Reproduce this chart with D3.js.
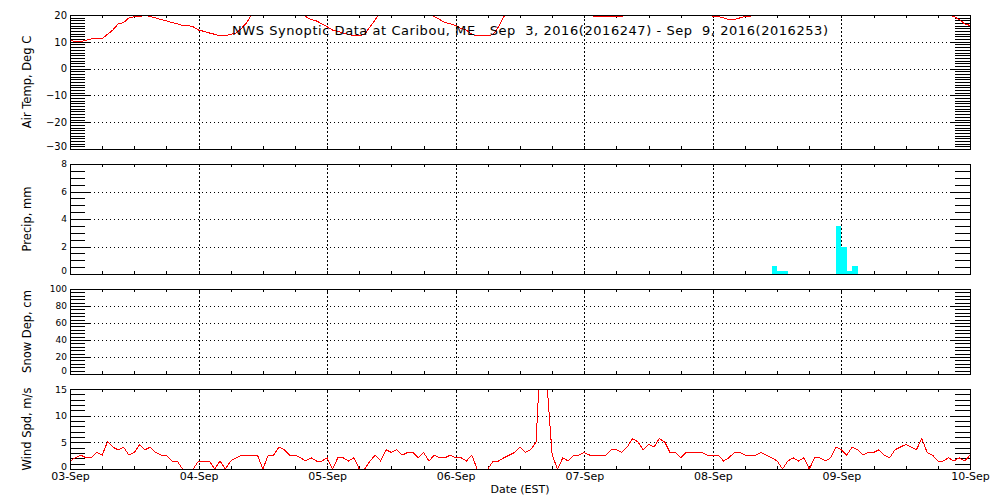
<!DOCTYPE html>
<html><head><meta charset="utf-8">
<script src="https://cdn.jsdelivr.net/npm/d3@7"></script>
<style>
html,body{margin:0;padding:0;background:#fff;}
svg{display:block;}
text{font-family:"DejaVu Sans",sans-serif;fill:#000;}
</style></head><body>
<svg id="c" width="1000" height="500"></svg>
<script>
// ---------------- data ----------------
const startDate = "2016-09-03T00:00:00Z";
const endDate = "2016-09-10T00:00:00Z";
const dayLabels = ["03-Sep","04-Sep","05-Sep","06-Sep","07-Sep","08-Sep","09-Sep","10-Sep"];
const titleText = "NWS Synoptic Data at Caribou, ME   Sep  3, 2016(2016247) - Sep  9, 2016(2016253)";
const xTitle = "Date (EST)";

// hourly air temperature, deg C (values above 20 are off the top of the panel)
const airTemp = [
  10.6,10.0,10.0,10.6,11.1,11.1,11.1,12.8,14.4,16.7,17.2,18.9,19.4,19.4,20.0,19.4,18.9,18.3,17.8,17.2,16.7,16.1,16.1,15.6,
  14.4,13.9,13.3,12.8,12.2,12.2,12.8,13.3,15.0,17.2,20.6,22.2,23.3,24.4,25.0,25.0,24.4,23.3,22.2,20.6,19.4,18.3,17.8,16.7,
  15.6,14.4,13.9,13.3,12.8,12.2,12.2,12.8,15.6,18.3,21.1,23.3,25.0,26.1,26.7,27.2,26.7,25.6,23.9,20.6,19.4,18.3,17.2,16.7,
  16.1,15.0,14.4,12.8,12.2,12.2,12.2,12.8,15.6,19.4,22.2,23.3,25.0,26.1,27.2,27.8,28.3,28.3,27.8,26.7,25.6,24.4,23.3,22.2,
  22.0,20.0,19.4,19.4,19.4,19.4,19.4,19.4,20.6,22.2,23.3,24.4,25.0,25.6,25.6,25.0,24.4,23.3,22.8,22.2,21.7,21.1,20.6,20.6,
  19.4,19.4,18.9,18.3,18.3,18.9,19.4,19.4,21.1,22.8,24.4,25.6,26.1,25.0,24.4,23.9,23.3,22.8,22.2,21.7,21.7,21.1,21.1,21.1,
  21.1,21.1,21.7,22.2,23.3,24.4,25.6,26.7,27.8,28.3,28.9,28.9,28.3,27.8,26.7,25.6,24.4,23.3,22.2,21.1,20.0,19.4,18.3,16.7,
  16.1
];

// hourly wind speed, m/s
const windSpd = [
  1.5,2.1,2.6,2.1,2.1,3.1,2.6,5.1,4.1,3.6,4.1,2.6,3.1,4.6,3.6,4.1,3.1,2.6,2.6,1.5,1.5,0,0,0,
  1.5,1.5,1.5,0,1.5,0,1.5,2.1,2.6,2.6,2.6,2.6,0,2.6,2.6,4.1,3.6,2.6,2.6,2.1,1.5,2.1,1.5,1.5,
  2.1,0,2.1,2.1,1.5,2.1,0,0,1.5,2.6,1.5,3.6,3.1,3.6,2.6,3.1,3.1,2.1,3.1,1.5,2.6,2.1,2.1,2.6,
  2.1,2.1,1.5,2.6,0,0,0,1.5,1.5,2.1,2.6,3.1,4.1,3.1,3.6,5.1,25.0,16.5,2.6,0,2.1,1.5,2.6,2.6,
  3.1,2.6,2.6,2.6,2.6,3.6,3.6,3.1,4.1,5.7,5.1,3.6,4.6,4.1,5.7,5.1,3.1,3.1,2.1,3.1,3.1,3.1,3.1,2.6,
  2.6,2.6,1.5,2.1,3.1,3.1,2.6,2.6,2.6,3.1,2.6,2.1,1.5,0,1.5,2.1,1.5,2.1,0,2.1,2.1,1.5,2.1,4.1,
  3.6,2.6,4.1,3.6,2.6,3.1,3.1,3.6,2.6,2.1,3.6,4.1,4.6,4.1,3.6,5.7,3.1,2.6,1.5,1.5,2.1,1.5,2.1,1.5,
  2.6
];

// hourly precipitation (hour index from start, mm)
const precipHours = [131,132,133,143,144,145,146];
const precipMm    = [0.6,0.2,0.2,3.5,2.0,0.2,0.6];

// snow depth, cm (no reports)
const snowDepth = [];

const tempTicks   = [-30,-20,-10,0,10,20];
const precipTicks = [0,2,4,6,8];
const snowTicks   = [0,20,40,60,80,100];
const windTicks   = [0,5,10,15];

// ---------------- chart ----------------
const svg = d3.select("#c");
const L = 70, R = 970;
const t0 = new Date(startDate), t1 = new Date(endDate);
const hourAt = i => new Date(t0.getTime() + i * 3600e3);
const x = d3.scaleUtc().domain([t0, t1]).range([L, R]);
const dayTimes = dayLabels.map((d, i) => new Date(t0.getTime() + i * 86400e3));
const sixHour = d3.range(0, 7 * 24 + 1, 6).map(hourAt);

const panels = [
  {id:"temp",   top:15,  bottom:149, domain:[-30,20], ticks:tempTicks,   minor:1,   label:"Air Temp, Deg C", fs:10},
  {id:"precip", top:164, bottom:274, domain:[0,8],    ticks:precipTicks, minor:0.5, label:"Precip, mm",      fs:9},
  {id:"snow",   top:289, bottom:374, domain:[0,100],  ticks:snowTicks,   minor:4,   label:"Snow Dep, cm",    fs:9},
  {id:"wind",   top:389, bottom:469, domain:[0,15],   ticks:windTicks,   minor:1,   label:"Wind Spd, m/s",   fs:9.5}
];

panels.forEach(p => {
  const y = d3.scaleLinear().domain(p.domain).range([p.bottom, p.top]);
  p.y = y;
  const g = svg.append("g");
  const inner = p.ticks.filter(v => v !== p.domain[0] && v !== p.domain[1]);
  const minorVals = d3.range(p.domain[0], p.domain[1] + 1e-9, p.minor).map(v => +v.toFixed(4));

  // horizontal dotted grid
  g.append("g").attr("transform", `translate(${L},0)`)
    .call(d3.axisLeft(y).tickValues(inner).tickSizeInner(-(R - L)).tickSizeOuter(0).tickFormat(""))
    .call(a => a.select(".domain").remove())
    .call(a => a.selectAll("line").attr("stroke", "#000").attr("stroke-dasharray", "1,3"));

  // vertical dotted day grid
  g.append("g").attr("transform", `translate(0,${p.bottom})`)
    .call(d3.axisBottom(x).tickValues(dayTimes.slice(1, -1)).tickSizeInner(-(p.bottom - p.top)).tickSizeOuter(0).tickFormat(""))
    .call(a => a.select(".domain").remove())
    .call(a => a.selectAll("line").attr("stroke", "#000").attr("stroke-dasharray", "2,2"));

  // minor y ticks, left and right
  g.append("g").attr("transform", `translate(${L},0)`)
    .call(d3.axisLeft(y).tickValues(minorVals).tickSizeInner(-15).tickSizeOuter(0).tickFormat(""))
    .call(a => a.select(".domain").remove());
  g.append("g").attr("transform", `translate(${R},0)`)
    .call(d3.axisRight(y).tickValues(minorVals).tickSizeInner(-15).tickSizeOuter(0).tickFormat(""))
    .call(a => a.select(".domain").remove());

  // major y ticks + labels (left), major ticks (right)
  g.append("g").attr("transform", `translate(${L},0)`)
    .call(d3.axisLeft(y).tickValues(p.ticks).tickSizeInner(-20).tickSizeOuter(0).tickPadding(3))
    .call(a => a.select(".domain").remove())
    .call(a => a.selectAll("text").attr("font-size", p.fs).attr("font-family", "DejaVu Sans")
      .attr("y", d => d === p.domain[0] ? -3 : 0));
  g.append("g").attr("transform", `translate(${R},0)`)
    .call(d3.axisRight(y).tickValues(p.ticks).tickSizeInner(-20).tickSizeOuter(0).tickFormat(""))
    .call(a => a.select(".domain").remove());

  // minor x ticks top/bottom
  g.append("g").attr("transform", `translate(0,${p.bottom})`)
    .call(d3.axisBottom(x).tickValues(sixHour).tickSizeInner(-3).tickSizeOuter(0).tickFormat(""))
    .call(a => a.select(".domain").remove());
  g.append("g").attr("transform", `translate(0,${p.top})`)
    .call(d3.axisTop(x).tickValues(sixHour).tickSizeInner(-3).tickSizeOuter(0).tickFormat(""))
    .call(a => a.select(".domain").remove());

  // clip
  svg.append("clipPath").attr("id", "clip-" + p.id)
    .append("rect").attr("x", L).attr("y", p.top + 0.5).attr("width", R - L + 1).attr("height", p.bottom - p.top);
  p.plot = svg.append("g").attr("clip-path", `url(#clip-${p.id})`);

  // y title
  svg.append("text")
    .attr("transform", `translate(27,${(p.top + p.bottom) / 2}) rotate(-90)`)
    .attr("text-anchor", "middle").attr("dominant-baseline", "central")
    .attr("font-size", 11.5).text(p.label);
});

svg.selectAll(".tick line").attr("shape-rendering", "crispEdges");

const [pT, pP, pS, pW] = panels;

// precipitation bars
pP.plot.selectAll("rect.bar").data(precipHours.map((h, i) => ({h, v: precipMm[i]})))
  .join("rect").attr("class", "bar")
  .attr("x", d => x(hourAt(d.h)))
  .attr("width", d => x(hourAt(d.h + 1)) - x(hourAt(d.h)))
  .attr("y", d => pP.y(d.v))
  .attr("height", d => pP.y(0) - pP.y(d.v))
  .attr("fill", "#00ffff").attr("shape-rendering", "crispEdges");

// snow line (no data)
pS.plot.append("path").datum(snowDepth)
  .attr("fill", "none").attr("stroke", "#ff0000")
  .attr("d", d3.line().x((d, i) => x(hourAt(i))).y(d => pS.y(d)));

// temperature line
pT.plot.append("path").datum(airTemp)
  .attr("fill", "none").attr("stroke", "#ff0000").attr("stroke-width", 1)
  .attr("shape-rendering", "crispEdges")
  .attr("d", d3.line().x((d, i) => x(hourAt(i))).y(d => pT.y(d)));

// wind line
pW.plot.append("path").datum(windSpd)
  .attr("fill", "none").attr("stroke", "#ff0000").attr("stroke-width", 1)
  .attr("shape-rendering", "crispEdges")
  .attr("d", d3.line().x((d, i) => x(hourAt(i))).y(d => pW.y(d)));

// frames
panels.forEach(p => {
  svg.append("rect").attr("x", L + 0.5).attr("y", p.top + 0.5)
    .attr("width", R - L).attr("height", p.bottom - p.top)
    .attr("fill", "none").attr("stroke", "#000").attr("shape-rendering", "crispEdges");
});

// bottom date labels
svg.append("g").attr("transform", `translate(0,${pW.bottom})`)
  .call(d3.axisBottom(x).tickValues(dayTimes).tickSize(0).tickPadding(3).tickFormat((d, i) => dayLabels[i]))
  .call(a => a.select(".domain").remove())
  .call(a => a.selectAll("text").attr("font-size", 11).attr("font-family", "DejaVu Sans"));

svg.append("text").attr("x", (L + R) / 2).attr("y", 493)
  .attr("text-anchor", "middle").attr("font-size", 11).text(xTitle);

// title
svg.append("text").attr("x", 232).attr("y", 35)
  .attr("font-size", 13).style("white-space", "pre")
  .attr("textLength", 596).attr("lengthAdjust", "spacing")
  .text(titleText);
</script>
</body></html>
